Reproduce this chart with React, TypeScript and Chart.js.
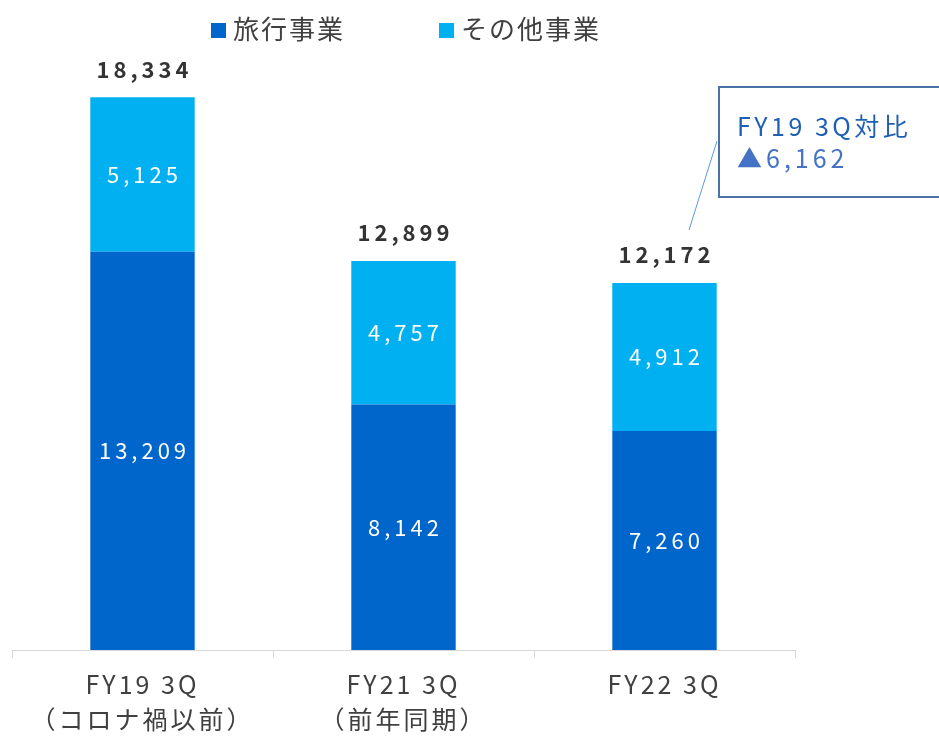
import React, { useEffect, useRef } from "react";
import { Chart, registerables } from "chart.js";

Chart.register(...registerables);

const categories: string[][] = [["FY19 3Q", "（コロナ禍以前）"], ["FY21 3Q", "（前年同期）"], ["FY22 3Q"]];
const seriesNames = ["旅行事業", "その他事業"];
const travelValues = [13209, 8142, 7260];
const otherValues = [5125, 4757, 4912];
const calloutLines = ["FY19 3Q対比", "▲6,162"];

const FONT = "'Noto Sans CJK JP', 'Noto Sans', sans-serif";
const DARK = "#0066CC";
const LIGHT = "#00B0F0";
const fmt = (v: number) => v.toLocaleString("en-US");

const spacing = {
  id: "spacing",
  beforeDraw(chart: any) {
    (chart.ctx as any).letterSpacing = "3px";
  },
};

const overlay = {
  id: "overlay",
  afterDatasetsDraw(chart: any) {
    const ctx = chart.ctx as any;
    ctx.save();
    ctx.textAlign = "center";
    ctx.textBaseline = "middle";
    ctx.letterSpacing = "4px";
    ctx.font = `22px ${FONT}`;
    ctx.fillStyle = "#ffffff";
    chart.data.datasets.forEach((ds: any, di: number) => {
      const meta = chart.getDatasetMeta(di);
      meta.data.forEach((bar: any, i: number) => {
        const y = (bar.y + bar.base) / 2;
        ctx.fillText(fmt(ds.data[i]), bar.x + 2, y);
      });
    });
    ctx.font = `bold 22px ${FONT}`;
    ctx.letterSpacing = "4px";
    ctx.fillStyle = "#333333";
    const topMeta = chart.getDatasetMeta(1);
    topMeta.data.forEach((bar: any, i: number) => {
      const total = travelValues[i] + otherValues[i];
      ctx.fillText(fmt(total), bar.x + 2, bar.y - 28);
    });
    const legendItems = [
      { x: 211, color: DARK, label: seriesNames[0] },
      { x: 439, color: LIGHT, label: seriesNames[1] },
    ];
    ctx.textAlign = "left";
    ctx.font = `26px ${FONT}`;
    ctx.letterSpacing = "2px";
    legendItems.forEach((it) => {
      ctx.fillStyle = it.color;
      ctx.fillRect(it.x, 23, 15, 15);
      ctx.fillStyle = "#404040";
      ctx.fillText(it.label, it.x + 22, 29);
    });
    ctx.strokeStyle = "#5B9BD5";
    ctx.lineWidth = 1;
    ctx.beginPath();
    ctx.moveTo(689, 230);
    ctx.lineTo(717, 141);
    ctx.stroke();
    ctx.fillStyle = "#ffffff";
    ctx.fillRect(719, 87, 230, 110);
    ctx.strokeStyle = "#4A72A6";
    ctx.lineWidth = 2;
    ctx.strokeRect(719, 87, 230, 110);
    ctx.font = `25px ${FONT}`;
    ctx.letterSpacing = "3.5px";
    ctx.fillStyle = "#1F5FB4";
    ctx.fillText(calloutLines[0], 737, 126);
    ctx.fillStyle = "#4472C4";
    ctx.letterSpacing = "4px";
    ctx.fillText(calloutLines[1], 737, 158);
    ctx.restore();
  },
};

export default function App() {
  const ref = useRef<HTMLCanvasElement>(null);
  useEffect(() => {
    if (!ref.current) return;
    const chart = new Chart(ref.current, {
      type: "bar",
      data: {
        labels: categories,
        datasets: [
          { label: seriesNames[0], data: travelValues, backgroundColor: DARK, barPercentage: 0.4, categoryPercentage: 1 },
          { label: seriesNames[1], data: otherValues, backgroundColor: LIGHT, barPercentage: 0.4, categoryPercentage: 1 },
        ],
      },
      options: {
        responsive: false,
        animation: false,
        devicePixelRatio: 1,
        layout: { padding: { top: 47, left: 12, right: 144, bottom: 0 } },
        plugins: { legend: { display: false }, tooltip: { enabled: false } },
        scales: {
          x: {
            stacked: true,
            grid: { offset: true, drawOnChartArea: false, tickLength: 8, color: "#D9D9D9" },
            border: { color: "#D9D9D9", width: 1 },
            ticks: { font: { family: FONT, size: 25, lineHeight: 1.4 }, color: "#404040", padding: 9, maxRotation: 0 },
            afterFit: (s: any) => { s.height = 93; },
          },
          y: { stacked: true, display: false, min: 0, max: 20000 },
        },
      },
      plugins: [spacing, overlay],
    });
    return () => chart.destroy();
  }, []);
  return (
    <div style={{ position: "absolute", left: 0, top: 0, width: 939, height: 743, background: "#fff" }}>
      <canvas ref={ref} width={939} height={743} />
    </div>
  );
}
